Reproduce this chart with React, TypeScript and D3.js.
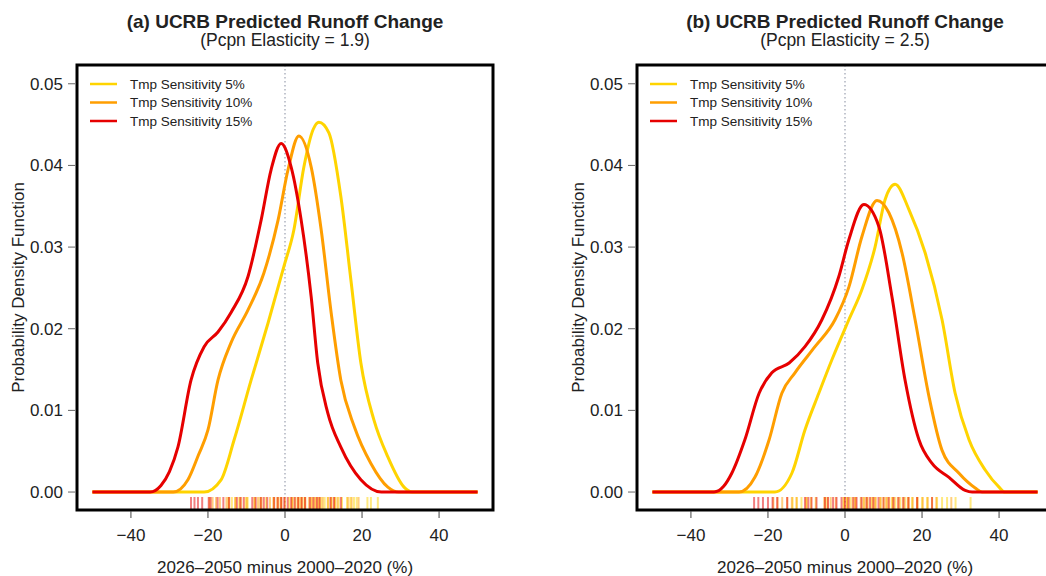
import React from "react";
import { scaleLinear, line, curveMonotoneX } from "d3";

// density curves, [change %, density]
const aYellow = [[-50, 0], [-21, 0], [-16.6, 0.0015], [-13.2, 0.0064], [-8.8, 0.0137], [-4.4, 0.0207], [-0.3, 0.0276], [2.3, 0.0321], [4.9, 0.0398], [7.3, 0.0444], [8.8, 0.0453], [11.4, 0.044], [14.5, 0.0362], [17.1, 0.026], [19.7, 0.0158], [23.1, 0.0088], [26.7, 0.0043], [30.9, 0.0006], [33, 0], [50, 0]];
const aOrange = [[-50, 0], [-29, 0], [-25.2, 0.0015], [-22.5, 0.0045], [-20, 0.0076], [-17.4, 0.0137], [-14, 0.0183], [-9.6, 0.0223], [-5.5, 0.0268], [-1.8, 0.0333], [0.8, 0.0395], [3.6, 0.0436], [6.8, 0.0398], [9.4, 0.0321], [12, 0.0219], [14.5, 0.0137], [18, 0.008], [22.3, 0.0035], [26.7, 0.0006], [29.5, 0], [50, 0]];
const aRed = [[-50, 0], [-35, 0], [-32.2, 0.0008], [-30, 0.0025], [-27.8, 0.0055], [-24.4, 0.0137], [-21, 0.0178], [-17.4, 0.0196], [-14, 0.022], [-9.6, 0.0264], [-6.2, 0.0333], [-3.6, 0.0395], [-1, 0.0427], [1.6, 0.0398], [4.2, 0.0333], [6.8, 0.0239], [8.5, 0.0158], [11.1, 0.0097], [14.5, 0.0055], [19.7, 0.0015], [25, 0], [50, 0]];

const bYellow = [[-50, 0], [-18.2, 0], [-13.8, 0.0023], [-10.4, 0.0076], [-6.8, 0.0121], [-3.4, 0.0162], [1, 0.0211], [4.4, 0.0248], [7.8, 0.03], [10.4, 0.0358], [13, 0.0377], [16.6, 0.0346], [20.8, 0.0293], [25.2, 0.0211], [28.6, 0.0121], [32.2, 0.0064], [36.4, 0.0027], [40, 0.0006], [41.5, 0], [50, 0]];
const bOrange = [[-50, 0], [-27.5, 0], [-23.4, 0.0018], [-19.7, 0.0064], [-16.4, 0.0121], [-13, 0.0146], [-7.8, 0.0178], [-2.6, 0.0211], [1, 0.0251], [4.4, 0.0313], [8.3, 0.0357], [11.4, 0.0342], [14.8, 0.0293], [18.2, 0.0211], [21.8, 0.0117], [25.2, 0.0051], [29.6, 0.0023], [33.8, 0.0005], [35.6, 0], [50, 0]];
const bRed = [[-50, 0], [-34, 0], [-31.5, 0.0007], [-29.4, 0.0023], [-26, 0.0064], [-22.3, 0.0121], [-19, 0.0146], [-14.5, 0.0158], [-10.4, 0.0178], [-6, 0.0211], [-1.6, 0.0264], [1, 0.0309], [4.9, 0.0352], [8.8, 0.0325], [12.2, 0.0239], [15.6, 0.0137], [19.2, 0.0064], [22.6, 0.0035], [27, 0.0018], [31.2, 0.0002], [33, 0], [50, 0]];

// rug samples
const aRugRed = [-24.4, -23.5, -22.6, -21.5, -19.8, -19.3, -17.5, -16, -14.5, -12.5, -11.6, -10.7, -8.5, -7.6, -6.3, -5.5, -4.6, -2.8, -1.9, -1, -0.2, 0.7, 1.6, 2.5, 3.4, 4.3, 5.2, 6.5, 7.4, 8.3, 9, 11.8, 12.7, 14.5];
const aRugOrange = [-19.6, -18.8, -17.9, -16.9, -15.2, -14.7, -12.9, -11.4, -9.9, -7.9, -7, -6.1, -3.9, -3, -1.7, -0.9, 0, 1.8, 2.7, 3.6, 4.4, 5.3, 6.2, 7.1, 8, 8.9, 9.8, 11.1, 12, 12.9, 13.6, 16.4, 17.3, 19.1];
const aRugYellow = [-14.6, -13.8, -12.9, -11.9, -10.2, -9.7, -7.9, -6.4, -4.9, -2.9, -2, -1.1, 1.1, 2, 3.3, 4.1, 5, 6.8, 7.7, 8.6, 9.4, 10.3, 11.2, 12.1, 13, 13.9, 14.8, 16.1, 17, 17.9, 18.6, 21.4, 22.3, 24.1];
const bRugRed = [-23.6, -22.5, -21.3, -20, -18.8, -17.6, -15, -10.4, -9.5, -8.7, -7.4, -5.2, -4.4, -3.1, -2.2, -0.9, 0, 0.9, 2.2, 3, 4.3, 5.6, 6.5, 7.4, 8.7, 10, 11.3, 12.6, 13.9, 15.2, 16.5, 18.7, 22.6];
const bRugOrange = [-18.6, -17.5, -16.3, -15, -13.8, -12.6, -10, -5.4, -4.5, -3.7, -2.4, -0.2, 0.6, 1.9, 2.8, 4.1, 5, 5.9, 7.2, 8, 9.3, 10.6, 11.5, 12.4, 13.7, 15, 16.3, 17.6, 18.9, 20.2, 21.5, 23.7, 27.6];
const bRugYellow = [-13.6, -12.5, -11.3, -10, -8.8, -7.6, -5, -0.4, 0.5, 1.3, 2.6, 4.8, 5.6, 6.9, 7.8, 9.1, 10, 10.9, 12.2, 13, 14.3, 15.6, 16.5, 17.4, 18.7, 20, 21.3, 22.6, 23.9, 25.2, 26.5, 28.7, 32.6];

const legendLabels = ["Tmp Sensitivity 5%", "Tmp Sensitivity 10%", "Tmp Sensitivity 15%"];
const colors = ["#FFD400", "#FF9E00", "#E60000"];
const xTicks = [-40, -20, 0, 20, 40];
const yTicks = [0, 0.01, 0.02, 0.03, 0.04, 0.05];
const xTitle = "2026\u20132050 minus 2000\u20132020 (%)";
const yTitle = "Probability Density Function";

const font = "'Liberation Sans', Arial, Helvetica, sans-serif";

const Panel = ({ dx, title, subtitle, curves, rugs }) => {
    const left = 77, right = 493, top = 65, bottom = 510

    // scales
    const x = scaleLinear().domain([-54, 54]).range([left, right])
    const y = scaleLinear().domain([-0.0022, 0.0523]).range([bottom, top])
    const path = line().x(d => x(d[0])).y(d => y(d[1])).curve(curveMonotoneX)
    const mid = (left + right) / 2

    return <g transform={`translate(${dx},0)`} fontFamily={font}>
        <text x={mid} y={28} textAnchor="middle" fontSize={19} fontWeight="bold" fill="#222">{title}</text>
        <text x={mid} y={46} textAnchor="middle" fontSize={17.5} fill="#222">{subtitle}</text>

        <line x1={x(0)} x2={x(0)} y1={top} y2={bottom} stroke="#9aa0b0" strokeWidth={1.2} strokeDasharray="1.5,2.5" />

        {rugs.map((r, i) => r.map((v, j) => (
            <line key={`${i}-${j}`} x1={x(v)} x2={x(v)} y1={bottom - 13} y2={bottom}
                stroke={colors[i]} strokeWidth={2} strokeOpacity={0.5} />
        )))}

        {curves.map((c, i) => (
            <path key={i} d={path(c)} fill="none" stroke={colors[i]} strokeWidth={3} strokeLinejoin="round" />
        ))}

        {legendLabels.map((l, i) => (
            <g key={l}>
                <line x1={90} x2={117} y1={84 + i * 18.5} y2={84 + i * 18.5} stroke={colors[i]} strokeWidth={2.5} />
                <text x={130} y={84 + i * 18.5} dy="0.35em" fontSize={13.5} fill="#222">{l}</text>
            </g>
        ))}

        <rect x={left} y={top} width={right - left} height={bottom - top} fill="none" stroke="#000" strokeWidth={3} />

        {yTicks.map(t => (
            <g key={t}>
                <line x1={68} x2={75} y1={y(t)} y2={y(t)} stroke="#666" strokeWidth={1} />
                <text x={63} y={y(t)} dy="0.35em" textAnchor="end" fontSize={17} fill="#222">{t.toFixed(2)}</text>
            </g>
        ))}
        {xTicks.map(t => (
            <g key={t}>
                <line x1={x(t)} x2={x(t)} y1={bottom + 1} y2={bottom + 8} stroke="#444" strokeWidth={1} />
                <text x={x(t)} y={541} textAnchor="middle" fontSize={17} fill="#222">{t < 0 ? `\u2212${-t}` : t}</text>
            </g>
        ))}

        <text x={mid} y={573} textAnchor="middle" fontSize={17} fill="#222">{xTitle}</text>
        <text transform={`translate(24,${(top + bottom) / 2}) rotate(-90)`} textAnchor="middle" fontSize={17} fill="#222">{yTitle}</text>
    </g>
}

const App = () => {
    return <svg width={1046} height={576} viewBox="0 0 1046 576"
        style={{ position: "absolute", left: 0, top: 0, background: "#fff" }}>
        <Panel dx={0} title="(a) UCRB Predicted Runoff Change" subtitle="(Pcpn Elasticity = 1.9)"
            curves={[aYellow, aOrange, aRed]} rugs={[aRugYellow, aRugOrange, aRugRed]} />
        <Panel dx={560} title="(b) UCRB Predicted Runoff Change" subtitle="(Pcpn Elasticity = 2.5)"
            curves={[bYellow, bOrange, bRed]} rugs={[bRugYellow, bRugOrange, bRugRed]} />
    </svg>
}

export default App;
